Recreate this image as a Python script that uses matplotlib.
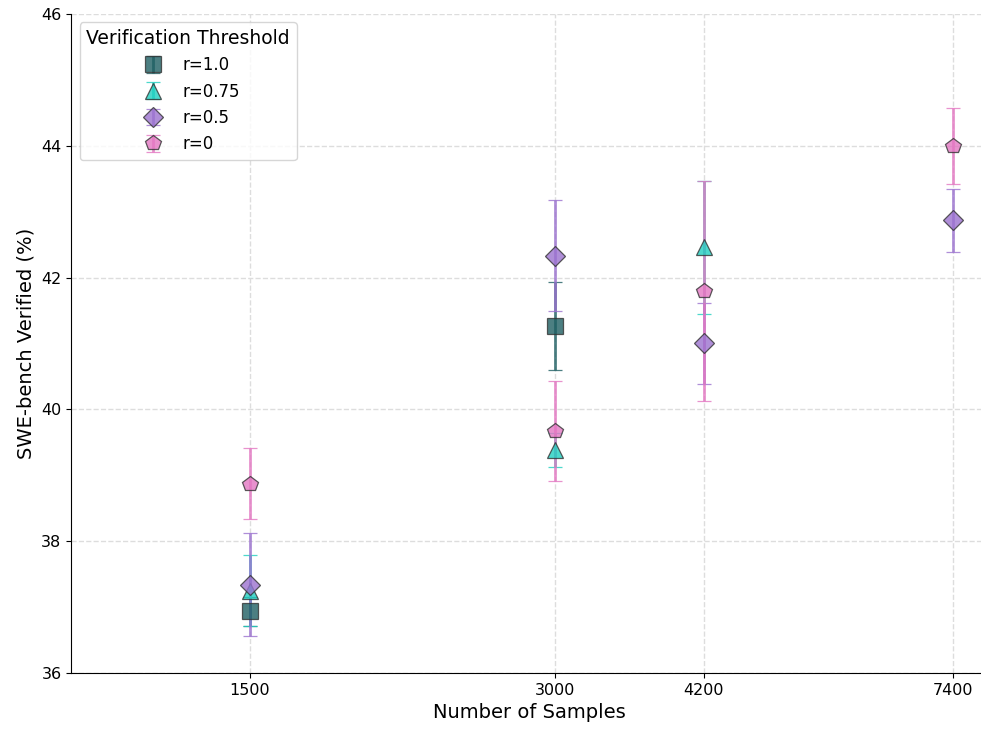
import numpy as np
import matplotlib.pyplot as plt
from matplotlib.ticker import FixedLocator, NullLocator

samples = [1500, 3000, 4200, 7400]
thresholds = ["r=1.0", "r=0.75", "r=0.5", "r=0"]

# mean scores per threshold (nan = no run)
score_r10 = [36.94, 41.27, np.nan, np.nan]
score_r075 = [37.25, 39.38, 42.46, np.nan]
score_r05 = [37.34, 42.33, 41.00, 42.87]
score_r0 = [38.87, 39.67, 41.80, 44.00]

# std errors
err_r10 = [0.22, 0.67, np.nan, np.nan]
err_r075 = [0.54, 0.26, 1.01, np.nan]
err_r05 = [0.78, 0.84, 0.62, 0.48]
err_r0 = [0.54, 0.76, 1.67, 0.58]

scores = [score_r10, score_r075, score_r05, score_r0]
errors = [err_r10, err_r075, err_r05, err_r0]
colors = ["#1f5f63", "#20CFC0", "#9B72CF", "#E377C2"]
markers = ["s", "^", "D", "p"]
msizes = [11.5, 11.5, 10.5, 11.5]

fig = plt.figure(figsize=(9.81, 7.32), dpi=100)
ax = fig.add_axes([0.0726, 0.0806, 0.934, 0.9003])

for lab, y, e, c, m, ms in zip(thresholds, scores, errors, colors, markers, msizes):
    ax.errorbar(samples, y, yerr=e, fmt=m, color=c, ecolor=c, elinewidth=2,
                capsize=5, capthick=1.2, markersize=ms, markeredgecolor="#333333",
                markeredgewidth=0.9, alpha=0.8, label=lab)

ax.set_xscale("log")
ax.set_xlim(1000, 8000)
ax.set_ylim(36, 46)
ax.xaxis.set_major_locator(FixedLocator(samples))
ax.xaxis.set_minor_locator(NullLocator())
ax.set_xticklabels([str(s) for s in samples])
ax.set_yticks([36, 38, 40, 42, 44, 46])
ax.tick_params(labelsize=11.5)

ax.grid(True, linestyle="--", color="#dddddd", linewidth=1)
ax.set_axisbelow(True)
ax.spines["top"].set_visible(False)
ax.spines["right"].set_visible(False)

ax.set_xlabel("Number of Samples", fontsize=14)
ax.set_ylabel("SWE-bench Verified (%)", fontsize=14)

ax.legend(title="Verification Threshold", loc="upper left", fontsize=12,
          title_fontsize=13.5)

fig.savefig("out.png", dpi=100)
